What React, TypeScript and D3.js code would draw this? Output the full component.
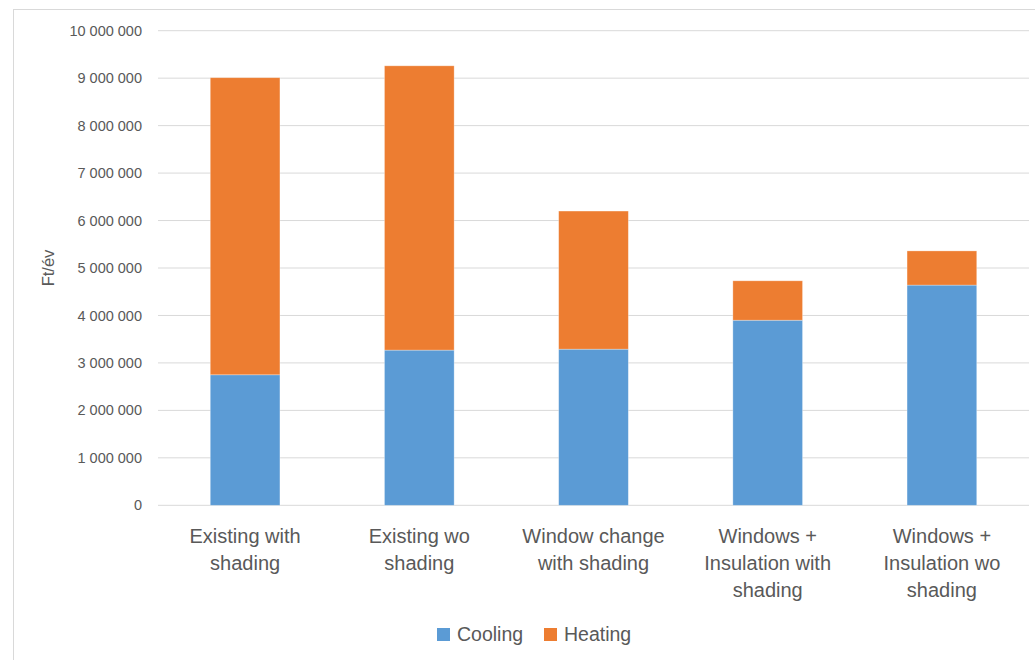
import React from "react";
import * as d3 from "d3";

// Annual energy cost by building scenario (Ft/év)
const categories: string[][] = [
  ["Existing with", "shading"],
  ["Existing wo", "shading"],
  ["Window change", "with shading"],
  ["Windows +", "Insulation with", "shading"],
  ["Windows +", "Insulation wo", "shading"],
];
const cooling = [2750000, 3270000, 3290000, 3900000, 4640000];
const heating = [6260000, 5990000, 2910000, 830000, 720000];
const seriesNames = ["Cooling", "Heating"];
const seriesColors = ["#5b9bd5", "#ed7d31"];
const yTicks = [0, 1000000, 2000000, 3000000, 4000000, 5000000, 6000000, 7000000, 8000000, 9000000, 10000000];
const yTitle = "Ft/év";

const W = 1035;
const H = 660;
const plot = { left: 158, right: 1029, top: 30.7, bottom: 505.3 };
const font = "'Liberation Sans', Arial, sans-serif";
const textColor = "#595959";

const fmt = (v: number) => d3.format(",")(v).replace(/,/g, " ");

export default function App() {
  const x = d3
    .scaleBand<number>()
    .domain(categories.map((_, i) => i))
    .range([plot.left, plot.right])
    .paddingInner(0.6)
    .paddingOuter(0.3);
  const y = d3.scaleLinear().domain([0, 10000000]).range([plot.bottom, plot.top]);

  const rows = categories.map((_, i) => ({ i, cooling: cooling[i], heating: heating[i] }));
  const stacked = d3.stack<any>().keys(["cooling", "heating"])(rows);

  return (
    <svg
      width={W}
      height={H}
      style={{ position: "absolute", left: 0, top: 0, background: "#fff" }}
      fontFamily={font}
    >
      <rect x={13.5} y={9.5} width={W + 10} height={H + 10} fill="#fff" stroke="#d9d9d9" />
      {yTicks.map((t) => (
        <g key={t}>
          <line x1={plot.left} x2={plot.right} y1={y(t)} y2={y(t)} stroke="#d9d9d9" strokeWidth={1} />
          <text x={142} y={y(t)} dy="0.35em" textAnchor="end" fontSize={14.5} fill={textColor}>
            {fmt(t)}
          </text>
        </g>
      ))}
      <text
        transform={`translate(${48},${(plot.top + plot.bottom) / 2}) rotate(-90)`}
        textAnchor="middle"
        dy="0.35em"
        fontSize={16.5}
        fill={textColor}
      >
        {yTitle}
      </text>
      {stacked.map((s, si) => (
        <g key={si} fill={seriesColors[si]}>
          {s.map((d, i) => (
            <rect
              key={i}
              x={x(i)}
              width={x.bandwidth()}
              y={y(d[1])}
              height={y(d[0]) - y(d[1])}
              stroke="#ffffff"
              strokeOpacity={0.4}
              strokeWidth={0.75}
            />
          ))}
        </g>
      ))}
      {categories.map((lines, i) => (
        <text
          key={i}
          x={(x(i) as number) + x.bandwidth() / 2}
          y={543}
          textAnchor="middle"
          fontSize={20}
          fill={textColor}
        >
          {lines.map((l, li) => (
            <tspan key={li} x={(x(i) as number) + x.bandwidth() / 2} dy={li === 0 ? 0 : 27}>
              {l}
            </tspan>
          ))}
        </text>
      ))}
      {seriesNames.map((n, i) => {
        const lx = [437, 544][i];
        return (
          <g key={n}>
            <rect x={lx} y={628} width={13} height={13} fill={seriesColors[i]} />
            <text x={lx + 20} y={634.5} dy="0.35em" fontSize={19.5} fill={textColor}>
              {n}
            </text>
          </g>
        );
      })}
    </svg>
  );
}
